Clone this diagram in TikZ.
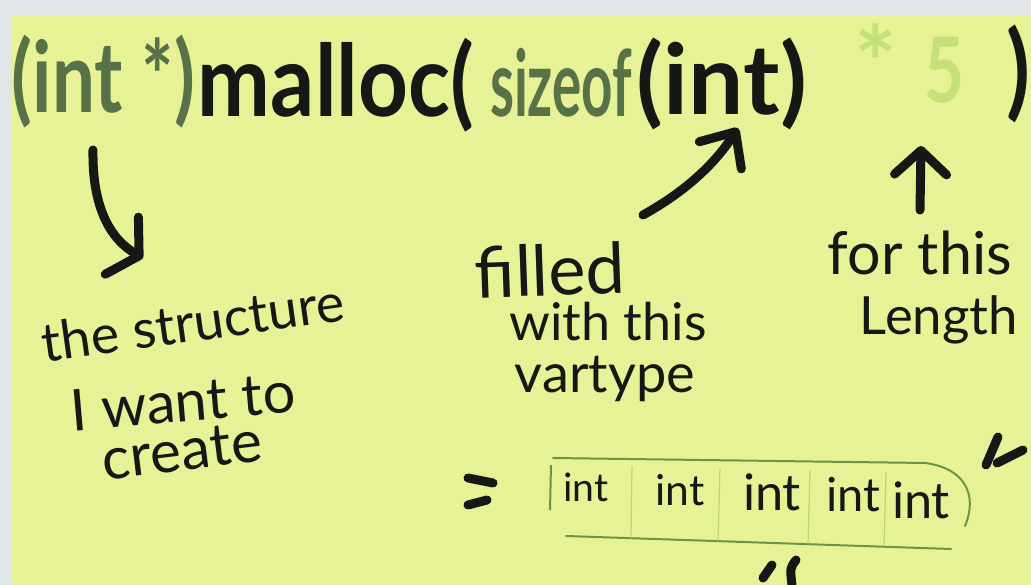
\documentclass[tikz,border=0pt]{standalone}
\usepackage{fontspec}
\usepackage{graphicx}
\usepackage{xcolor}
\usepackage{tikz}
\usetikzlibrary{arrows.meta}
\setmainfont{Lato}

\definecolor{framebg}{RGB}{224,229,231}
\definecolor{notebg}{RGB}{231,242,150}
\definecolor{dkgreen}{RGB}{88,114,72}
\definecolor{ltgreen}{RGB}{196,224,118}
\definecolor{ink}{RGB}{22,24,22}
\definecolor{boxgreen}{RGB}{108,148,70}
\definecolor{divgreen}{RGB}{188,214,118}

% codice: testo stirato in un riquadro w x h (pixel dello schizzo)
\newcommand{\fitbox}[3]{\resizebox*{#1pt}{#2pt}{#3}}
% scritte a mano: testo scalato alla larghezza w
\newcommand{\fitwide}[2]{\resizebox{#1pt}{!}{#2}}

\tikzset{
  code/.style={inner sep=0pt, font=\bfseries},
  hand/.style={inner sep=0pt, text=ink},
  pen/.style={draw=ink, line width=9pt, line cap=round, line join=round},
  divider/.style={draw=divgreen, line width=1.2pt},
}

\begin{document}
\begin{tikzpicture}[x=1pt, y=-1pt]

	\useasboundingbox (0,0) rectangle (1031,585);

	% Fondo e foglietto
	\fill[framebg] (0,0) rectangle (1031,585);
	\fill[notebg] (12,15) rectangle (1031,585);

	% Riga di codice
	\node[code, text=dkgreen] (cast) at (103.5,81.5) {\fitbox{183}{93}{(int *)}};
	\node[code, text=ink] (malloc) at (336,85) {\fitbox{276}{94}{malloc(}};
	\node[code, text=dkgreen] (sizeof) at (561,83) {\fitbox{142}{69}{sizeof}};
	\node[code, text=ink] (inttype) at (722,84) {\fitbox{170}{92}{(int)}};
	\node[code, text=ltgreen, anchor=base, font=\bfseries\fontsize{100}{100}\selectfont]
		(times) at (876,100) {*};
	\node[code, text=ltgreen] (five) at (945,70) {\fitbox{40}{66}{5}};
	\node[code, text=ink] (close) at (1018,74) {\fitbox{24}{98}{)}};

	% Etichette
	\node[hand, rotate=8] (structure) at (193,322) {\fitwide{305}{the structure}};
	\node[hand, rotate=5] (want) at (183,401) {\fitwide{225}{I want to}};
	\node[hand, rotate=7] (create) at (182,451) {\fitwide{160}{create}};

	\node[hand, rotate=2] (filled) at (550,270) {\fitwide{150}{filled}};
	\node[hand] (withthis) at (608,322) {\fitwide{197}{with this}};
	\node[hand] (vartype) at (605,379) {\fitwide{180}{vartype}};

	\node[hand] (forthis) at (920,253) {\fitwide{184}{for this}};
	\node[hand] (length) at (939,320) {\fitwide{158}{Length}};

	% Frecce
	\coordinate (castfoot) at (93,150);
	\coordinate (structtop) at (143,258);
	\draw[pen, -{Straight Barb[length=20pt, width=66pt, round]}]
		(castfoot) .. controls (92,210) and (112,240) .. (structtop);

	\coordinate (filledtop) at (643,215);
	\coordinate (sizeoffoot) at (738,128);
	\draw[pen, -{Straight Barb[length=28pt, width=50pt, round]}]
		(filledtop) .. controls (688,190) and (716,162) .. (sizeoffoot);

	\coordinate (lengthtop) at (920,210);
	\coordinate (fivefoot) at (921,146);
	\draw[pen, -{Straight Barb[length=24pt, width=52pt, round]}] (lengthtop) -- (fivefoot);

	% Uguale
	\draw[pen] (468,478) -- (493,483);
	\draw[pen] (468,505) -- (487,500);

	% Array di cinque int
	\draw[boxgreen, line width=2pt] (551,465) -- (550,510);
	\draw[boxgreen, line width=2pt, line cap=round]
		(553,458) -- (925,463) .. controls (965,468) and (978,495) .. (965,526);
	\draw[boxgreen, line width=2pt, line cap=round] (566,536) -- (951,549);

	\draw[divider] (632,466) -- (631,538);
	\draw[divider] (720,468) -- (718,541);
	\draw[divider] (810,470) -- (808,544);
	\draw[divider] (886,472) -- (884,546);

	\node[hand] (cell1) at (586,487) {\fitwide{45}{int}};
	\node[hand] (cell2) at (680,490) {\fitwide{49}{int}};
	\node[hand] (cell3) at (772,492) {\fitwide{58}{int}};
	\node[hand] (cell4) at (853,495) {\fitwide{54}{int}};
	\node[hand] (cell5) at (921,500) {\fitwide{58}{int}};

	% Segni ai bordi
	\draw[pen] (998,437) -- (986,465);
	\draw[pen] (997,463) -- (1023,450);
	\draw[pen] (772,565) -- (763,578);
	\draw[pen] (796,560) .. controls (790,568) .. (792,585);

\end{tikzpicture}
\end{document}
